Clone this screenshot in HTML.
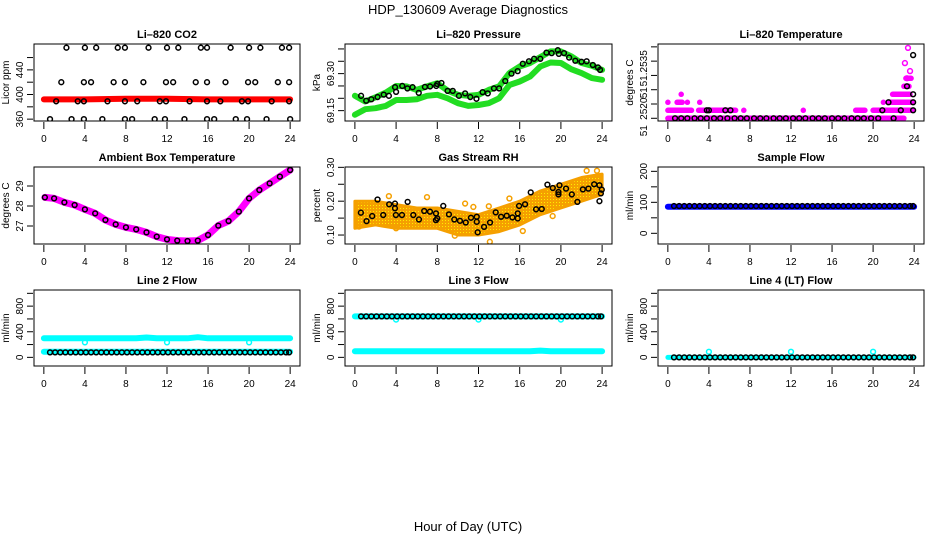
<!DOCTYPE html>
<html><head><meta charset="utf-8"><style>
html,body{margin:0;padding:0;background:#fff;}
svg{display:block;font-family:"Liberation Sans",Arial,sans-serif;}
</style></head><body>
<svg id="chart" width="936" height="540" viewBox="0 0 936 540" xmlns="http://www.w3.org/2000/svg">
<defs>
<pattern id="rhpat" width="3" height="3" patternUnits="userSpaceOnUse">
<rect width="3" height="3" fill="#f5a000"/><rect x="1" y="1" width="1" height="1" fill="#ffee00"/>
</pattern>
</defs>
<text x="468" y="14" text-anchor="middle" font-size="13">HDP_130609  Average Diagnostics</text>
<text x="468" y="531" text-anchor="middle" font-size="13">Hour of Day (UTC)</text>
</svg>
<script>
// ---------- data ----------
const xTicks = [0,4,8,12,16,20,24];
// CO2
const co2Hours476 = [2.2,4.0,5.1,7.2,7.9,10.2,12.0,13.1,15.3,15.9,18.2,20.0,21.1,23.2,23.9];
const co2Hours420 = [1.7,3.9,4.6,6.8,7.9,9.7,11.9,12.6,14.8,15.9,17.7,19.9,20.6,22.8,23.9];
const co2Hours389 = [1.2,3.3,3.9,6.2,7.9,9.1,11.3,11.9,14.2,15.9,17.2,19.3,19.9,22.2,23.9];
const co2Hours360 = [0.6,2.7,3.9,5.7,7.9,8.6,10.8,11.8,13.7,15.9,16.6,18.7,19.8,21.7,24.0];
const co2Levels = [476,420,389,360];
const co2RedHours = [0,4,8,12,16,20,24];
const co2RedValues = [392,392,393,393,392,392,392];
// Pressure
const hourly = [0,1,2,3,4,5,6,7,8,9,10,11,12,13,14,15,16,17,18,19,20,21,22,23,24];
const presUpper = [69.21,69.187,69.204,69.223,69.25,69.248,69.234,69.248,69.261,69.231,69.214,69.21,69.214,69.234,69.248,69.302,69.329,69.343,69.367,69.39,69.39,69.37,69.343,69.332,69.315];
const presLower = [69.133,69.156,69.16,69.169,69.193,69.193,69.196,69.21,69.214,69.2,69.18,69.169,69.173,69.18,69.2,69.254,69.268,69.288,69.329,69.345,69.343,69.318,69.302,69.282,69.275];
const presBlackHours = [0.6,1.1,1.6,2.2,2.8,3.3,3.9,4.0,4.6,5.1,5.6,6.2,6.8,7.3,7.9,8.0,8.4,9.0,9.5,10.1,10.7,11.2,11.8,12.4,12.9,13.5,14.0,14.6,15.2,15.8,16.3,16.9,17.4,18.0,18.6,19.1,19.7,19.8,20.3,20.8,21.4,22.0,22.5,23.1,23.6,23.8];
const presBlackValues = [69.21,69.19,69.196,69.205,69.215,69.21,69.245,69.226,69.25,69.24,69.245,69.222,69.246,69.248,69.25,69.258,69.262,69.23,69.23,69.21,69.22,69.205,69.198,69.225,69.22,69.24,69.24,69.27,69.3,69.31,69.34,69.35,69.36,69.36,69.385,69.383,69.395,69.38,69.383,69.365,69.352,69.348,69.35,69.335,69.325,69.315];
// Li-820 temperature (levels)
const tempBase = 51.2515, tempStep = 0.00028;
const tempSegLevel = [0,1,1,1,1,1,1,2,2,2,2,2,2,3,3,4,5];
const tempSegFrom  = [0,0,3.0,7.4,13.2,18.3,20.0,0,0.9,1.9,3.1,21.0,21.5,1.3,21.9,23.0,23.2];
const tempSegTo    = [23.0,2.3,6.6,7.4,13.2,19.2,23.9,0,1.4,1.9,3.1,21.0,23.8,1.3,23.6,23.5,23.7];
const tempMagHours = [23.1,23.6,23.4,23.3];
const tempMagLevels = [6.9,5.9,8.8,5.0];
const tempBlackHours = [0.7,1.3,1.9,2.6,3.2,3.8,4.5,5.1,5.8,6.5,7.1,7.7,8.4,9.0,9.6,10.3,10.9,11.5,12.2,12.8,13.4,14.1,14.7,15.3,16.0,16.6,17.2,17.9,18.5,19.1,19.8,20.5,22.0,3.8,4.0,5.6,6.1,20.9,22.7,23.9,21.5,23.9,23.9,23.3,23.9];
const tempBlackLevels = [0,0,0,0,0,0,0,0,0,0,0,0,0,0,0,0,0,0,0,0,0,0,0,0,0,0,0,0,0,0,0,0,0,1,1,1,1,1,1,1,2,2,3,4,7.9];
// Ambient box temperature
const ambHours = [0.1,1,2,3,4,5,6,7,8,9,10,11,12,13,14,15,16,17,18,19,20,21,22,23,24];
const ambValues = [28.43,28.38,28.18,28.05,27.83,27.63,27.3,27.08,26.93,26.83,26.68,26.47,26.33,26.27,26.25,26.27,26.55,27.02,27.25,27.72,28.38,28.8,29.13,29.47,29.8];
// Gas stream RH
const rhBandHours = [0,2,4,6,8,10,12,14,16,18,20,22,24];
const rhBandLow = [0.12,0.13,0.12,0.12,0.12,0.10,0.10,0.11,0.13,0.16,0.18,0.20,0.22];
const rhBandHigh = [0.20,0.20,0.19,0.18,0.18,0.17,0.16,0.18,0.20,0.23,0.25,0.27,0.28];
const rhOutHours = [0.4,3.3,4.0,7.0,9.7,10.7,11.5,13.0,13.1,15.0,16.3,19.2,22.5,23.5];
const rhOutValues = [0.125,0.215,0.12,0.212,0.098,0.193,0.183,0.185,0.08,0.208,0.112,0.156,0.29,0.29];
const rhBlackHours = [0.58,1.13,1.68,2.2,2.75,3.33,3.89,3.89,3.98,4.57,5.12,5.67,6.22,6.73,7.29,7.87,7.87,8.0,8.58,9.13,9.65,10.2,10.76,11.27,11.83,11.83,11.92,12.54,13.12,13.67,14.19,14.74,15.29,15.81,15.81,15.94,16.52,17.07,17.59,18.14,18.69,19.21,19.76,19.76,19.86,20.5,21.06,21.6,22.13,22.67,23.23,23.74,23.74,23.88,23.97];
const rhBlackValues = [0.166,0.141,0.156,0.205,0.159,0.191,0.193,0.179,0.159,0.159,0.198,0.159,0.146,0.171,0.169,0.164,0.144,0.149,0.186,0.161,0.146,0.142,0.137,0.151,0.154,0.139,0.108,0.124,0.137,0.167,0.154,0.157,0.152,0.164,0.149,0.186,0.191,0.226,0.176,0.177,0.249,0.239,0.227,0.22,0.247,0.237,0.22,0.198,0.235,0.237,0.25,0.247,0.2,0.223,0.234];
// Flows
const flowHours = [0.6,1.1,1.6,2.1,2.6,3.1,3.6,4.1,4.6,5.1,5.6,6.1,6.6,7.1,7.6,8.1,8.6,9.1,9.6,10.1,10.6,11.1,11.6,12.1,12.6,13.1,13.6,14.1,14.6,15.1,15.6,16.1,16.6,17.1,17.6,18.1,18.6,19.1,19.6,20.1,20.6,21.1,21.6,22.1,22.6,23.1,23.6,23.9];
const sampleBlack = [88,88,88,88,88,88,88,88,88,88,88,88,88,88,88,88,88,88,88,88,88,88,88,88,88,88,88,88,88,88,88,88,88,88,88,88,88,88,88,88,88,88,88,88,88,88,88,88];
const sampleBand = [86,86,86,86,86,86,86,86,86,86,86,86,86,86,86,86,86,86,86,86,86,86,86,86,86];
const line2Black = [78,78,78,78,78,78,78,78,78,78,78,78,78,78,78,78,78,78,78,78,78,78,78,78,78,78,78,78,78,78,78,78,78,78,78,78,78,78,78,78,78,78,78,78,78,78,78,78];
const line2Upper = [297,297,297,297,297,297,297,297,297,297,310,297,297,297,297,315,297,297,297,297,297,297,297,297,297];
const line2Lower = [88,88,88,88,88,88,88,88,88,88,88,88,88,88,88,88,88,88,88,88,88,88,88,88,88];
const line2DipHours = [4,12,20];
const line2DipValues = [234,234,234];
const line3Black = [640,640,640,640,640,640,640,640,640,640,640,640,640,640,640,640,640,640,640,640,640,640,640,640,640,640,640,640,640,640,640,640,640,640,640,640,640,640,640,640,640,640,640,640,640,640,640,640];
const line3Upper = [640,640,640,640,640,640,640,640,640,640,640,640,640,640,640,640,640,640,640,640,640,640,640,640,640];
const line3Lower = [95,95,95,95,95,95,95,95,95,95,95,95,95,95,95,95,95,95,105,95,95,95,95,95,95];
const line3DipHours = [4,12,20];
const line3DipValues = [590,590,590];
const line4Black = [0,0,0,0,0,0,0,0,0,0,0,0,0,0,0,0,0,0,0,0,0,0,0,0,0,0,0,0,0,0,0,0,0,0,0,0,0,0,0,0,0,0,0,0,0,0,0,0];
const line4Band = [0,0,0,0,0,0,0,0,0,0,0,0,0,0,0,0,0,0,0,0,0,0,0,0,0];
const line4SpikeHours = [4,12,20];
const line4SpikeValues = [88,88,88];

// ---------- drawing ----------
const NS = "http://www.w3.org/2000/svg";
const svg = document.getElementById('chart');
function mk(tag, attrs, parent){
  const e = document.createElementNS(NS, tag);
  for (const k in attrs) e.setAttribute(k, attrs[k]);
  (parent||svg).appendChild(e);
  return e;
}
function fmt(v){ return Number.isInteger(v) ? String(v) : v.toFixed(2); }
function panel(id, title, L, R, T, B, ymin, ymax, ticks, labels, ylab){
  const g = mk('g', {});
  
  
  const sx = h => L + (h + 0.96) / 25.92 * (R - L);
  const sy = v => B - (v - ymin) / (ymax - ymin) * (B - T);
  const t = mk('text', {x:(L+R)/2, y:T-6, 'text-anchor':'middle', 'font-size':11, 'font-weight':'bold'}, g);
  t.textContent = title;
  
  
  const yl = mk('text', {x:0, y:0, 'text-anchor':'middle', 'font-size':10, transform:`translate(${L-25},${(T+B)/2}) rotate(-90)`}, g);
  yl.textContent = ylab;
  
  
  xTicks.forEach(v => {
    const x = sx(v);
    const tk = mk('line', {x1:x, x2:x, y1:B+1, y2:B+8, stroke:'#000', 'stroke-width':1}, g);
    
    
    const tl = mk('text', {x:x, y:B+21, 'text-anchor':'middle', 'font-size':10}, g);
    tl.textContent = v;
    
    
  });
  ticks.forEach(v => {
    const y = sy(v);
    const tk = mk('line', {x1:L-7, x2:L-1, y1:y, y2:y, stroke:'#000', 'stroke-width':1}, g);
    
    
  });
  labels.forEach(v => {
    const y = sy(v);
    const tl = mk('text', {x:0, y:0, 'text-anchor':'middle', 'font-size':10, transform:`translate(${L-11},${y}) rotate(-90)`}, g);
    tl.textContent = fmt(v);
    
    
  });
  const data = mk('g', {}, g);
  
  
  const clip = mk('clipPath', {id:id+'-clip'}, g);
  mk('rect', {x:L, y:T, width:R-L, height:B-T}, clip);
  data.setAttribute('clip-path', `url(#${id}-clip)`);
  const box = mk('rect', {x:L, y:T, width:R-L, height:B-T, fill:'none', stroke:'#000', 'stroke-width':1}, g);
  
  
  return {g:data, sx, sy};
}
function dot(p, h, v, color, name, fill){
  const c = mk('circle', {cx:p.sx(h), cy:p.sy(v), r:2.4, fill:fill||'none', stroke:color, 'stroke-width':1.5}, p.g);
  
  
}
function band(p, hs, vs, color, w, name){
  const pts = hs.map((h,i) => p.sx(h).toFixed(1) + ',' + p.sy(vs[i]).toFixed(1)).join(' ');
  const l = mk('polyline', {points:pts, fill:'none', stroke:color, 'stroke-width':w, 'stroke-linejoin':'round', 'stroke-linecap':'round'}, p.g);
  
  
}

const C1L=34, C1R=300, C2L=345, C2R=612, C3L=658, C3R=924;
const R1T=44, R1B=121, R2T=167, R2B=244, R3T=290, R3B=366;

let p = panel('co2', 'Li\u2013820 CO2', C1L, C1R, R1T, R1B, 357, 482, [360,380,400,420,440,460], [360,400,440], 'Licor ppm');
band(p, co2RedHours, co2RedValues, '#ff0000', 6, 'co2-red-series');
[co2Hours476, co2Hours420, co2Hours389, co2Hours360].forEach((hs, k) => hs.forEach(h => dot(p, h, co2Levels[k], '#000', 'co2-point')));

p = panel('pressure', 'Li\u2013820 Pressure', C2L, C2R, R1T, R1B, 69.108, 69.42, [69.15,69.2,69.25,69.3,69.35,69.4], [69.15,69.3], 'kPa');
band(p, hourly, presUpper, '#22dd22', 6, 'pressure-upper-green-series');
band(p, hourly, presLower, '#22dd22', 6, 'pressure-lower-green-series');
presBlackHours.forEach((h,i) => dot(p, h, presBlackValues[i], '#000', 'pressure-point'));

p = panel('licor-temp', 'Li\u2013820 Temperature', C3L, C3R, R1T, R1B, tempBase - 0.000095, tempBase + 0.00260, [tempBase, tempBase+0.0005, tempBase+0.001, tempBase+0.0015, tempBase+0.002, tempBase+0.0025], [], 'degrees C');
[['51',130.7],['2520',108.7],['51',92.7],['51.2535',68.3]].forEach(([s,y]) => {
  const tl = mk('text', {x:0, y:0, 'text-anchor':'middle', 'font-size':10, transform:`translate(${C3L-11},${y}) rotate(-90)`});
  tl.textContent = s;
  
  
});
tempSegLevel.forEach((lv, i) => band(p, [tempSegFrom[i], tempSegTo[i]], [tempBase+lv*tempStep, tempBase+lv*tempStep], '#ff00ff', 5.5, 'licor-temp-magenta-series'));
tempMagHours.forEach((h,i) => dot(p, h, tempBase + tempMagLevels[i]*tempStep, '#ff00ff', 'licor-temp-magenta-point'));
tempBlackHours.forEach((h,i) => dot(p, h, tempBase + tempBlackLevels[i]*tempStep, '#000', 'licor-temp-point'));

p = panel('ambient', 'Ambient Box Temperature', C1L, C1R, R2T, R2B, 26.1, 29.95, [27,28,29], [27,28,29], 'degrees C');
band(p, ambHours, ambValues, '#ff00ff', 7, 'ambient-magenta-series');
ambHours.forEach((h,i) => dot(p, h, ambValues[i], '#000', 'ambient-point'));

p = panel('rh', 'Gas Stream RH', C2L, C2R, R2T, R2B, 0.0735, 0.301, [0.10,0.15,0.20,0.25,0.30], [0.10,0.20,0.30], 'percent');
{
  const up = rhBandHours.map((h,i) => p.sx(h).toFixed(1)+','+p.sy(rhBandHigh[i]).toFixed(1));
  const lo = rhBandHours.map((h,i) => p.sx(h).toFixed(1)+','+p.sy(rhBandLow[i]).toFixed(1)).reverse();
  const poly = mk('polygon', {points: up.concat(lo).join(' '), fill:'url(#rhpat)', stroke:'#f5a000', 'stroke-width':3, 'stroke-linejoin':'round'}, p.g);
  
  
}
rhOutHours.forEach((h,i) => dot(p, h, rhOutValues[i], '#f5a000', 'rh-orange-point'));
rhBlackHours.forEach((h,i) => dot(p, h, rhBlackValues[i], '#000', 'rh-point'));

p = panel('sample-flow', 'Sample Flow', C3L, C3R, R2T, R2B, -34.5, 214, [0,50,100,150,200], [0,100,200], 'ml/min');
band(p, hourly, sampleBand, '#0000ff', 6, 'sample-flow-blue-series');
flowHours.forEach((h,i) => dot(p, h, sampleBlack[i], '#000', 'sample-flow-point'));

const fT = [0,200,400,600,800,1000], fL = [0,400,800];
p = panel('line2', 'Line 2 Flow', C1L, C1R, R3T, R3B, -135, 1052, fT, fL, 'ml/min');
band(p, hourly, line2Upper, '#00ffff', 6, 'line2-cyan-upper-series');
band(p, hourly, line2Lower, '#00ffff', 6, 'line2-cyan-lower-series');
line2DipHours.forEach((h,i) => dot(p, h, line2DipValues[i], '#00ffff', 'line2-cyan-point'));
flowHours.forEach((h,i) => dot(p, h, line2Black[i], '#000', 'line2-point'));

p = panel('line3', 'Line 3 Flow', C2L, C2R, R3T, R3B, -135, 1052, fT, fL, 'ml/min');
band(p, hourly, line3Upper, '#00ffff', 6, 'line3-cyan-upper-series');
band(p, hourly, line3Lower, '#00ffff', 6, 'line3-cyan-lower-series');
line3DipHours.forEach((h,i) => dot(p, h, line3DipValues[i], '#00ffff', 'line3-cyan-point'));
flowHours.forEach((h,i) => dot(p, h, line3Black[i], '#000', 'line3-point'));

p = panel('line4', 'Line 4 (LT) Flow', C3L, C3R, R3T, R3B, -135, 1052, fT, fL, 'ml/min');
band(p, hourly, line4Band, '#00ffff', 5, 'line4-cyan-series');
line4SpikeHours.forEach((h,i) => dot(p, h, line4SpikeValues[i], '#00ffff', 'line4-cyan-point'));
flowHours.forEach((h,i) => dot(p, h, line4Black[i], '#000', 'line4-point'));
</script>
</body></html>
